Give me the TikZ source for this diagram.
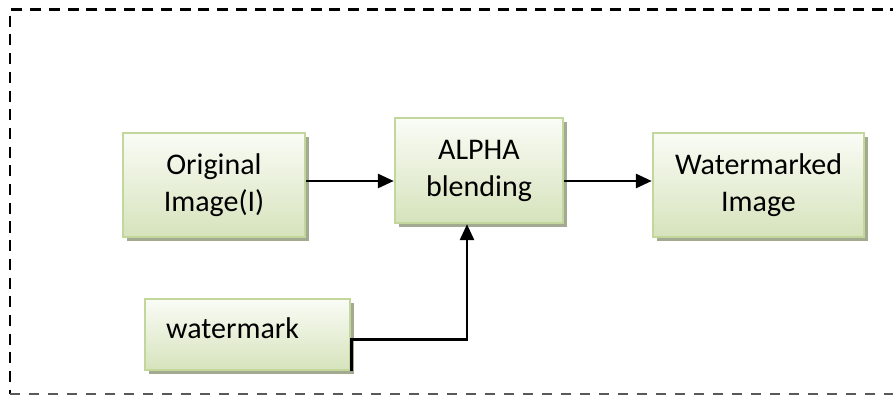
\documentclass[tikz,border=0pt]{standalone}
\usepackage{fontspec}
\setmainfont{Carlito}
\usetikzlibrary{arrows.meta,shadows,calc}

\definecolor{boxedge}{HTML}{C3D69B}
\definecolor{boxtop}{HTML}{FAFCF6}
\definecolor{boxbot}{HTML}{D6E3BC}
\definecolor{boxshadow}{HTML}{A3AA92}

\tikzset{
  block/.style={draw=boxedge, line width=2.4pt, top color=boxtop, bottom color=boxbot,
    drop shadow={shadow xshift=4pt, shadow yshift=-4pt, fill=boxshadow, opacity=1},
    align=center, inner sep=0pt,
    font=\fontsize{30}{37}\selectfont},
  arr/.style={line width=2.8pt, -{Triangle[length=16pt,width=14pt]}},
  frame/.style={dash pattern=on 11pt off 7.7pt, line width=2.6pt}
}

\begin{document}
\begin{tikzpicture}[x=1pt, y=-1pt]
  \useasboundingbox (0,0) rectangle (893,395);
  \clip (0,0) rectangle (893,395);

  % dashed surround (right side runs off the page)
  \draw[frame] (920,9.5) -- (10,9.5) -- (10,394);
  \draw[dash pattern=on 10pt off 9pt, line width=1.6pt, black!65] (10,394) -- (900,394);

  % blocks
  \node[block, minimum width=182pt, minimum height=104pt] (orig) at (214,185) {Original\\Image(I)};
  \node[block, minimum width=168pt, minimum height=105pt] (alpha) at (479,170.5) {ALPHA\\blending};
  \node[block, minimum width=211pt, minimum height=104pt] (out) at (758.5,185) {Watermarked\\Image};
  \node[block, minimum width=205pt, minimum height=71pt] (wm) at (247.5,334.5) {};
  \node[anchor=base west, inner sep=0pt, font=\fontsize{30}{37}\selectfont] (wmtext) at (166,338) {watermark};

  % connectors
  \draw[arr] (orig.east |- 0,181) -- (alpha.west |- 0,181);
  \draw[arr] (alpha.east |- 0,181) -- (out.west |- 0,181);
  \draw[arr, line cap=rect] ([yshift=2pt]wm.south east) -- ++(0,-30) -| ([xshift=-12pt]alpha.south);
\end{tikzpicture}
\end{document}
